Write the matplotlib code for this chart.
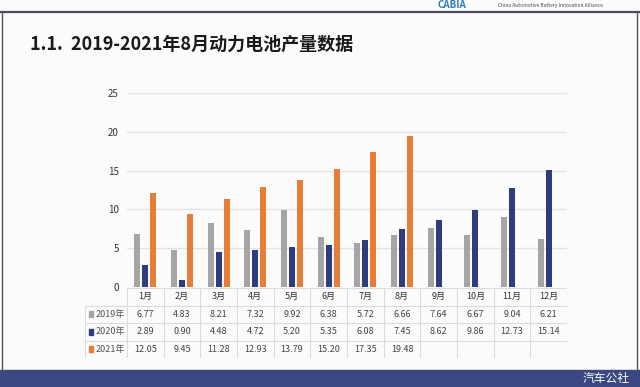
import matplotlib.pyplot as plt
from matplotlib.patches import Rectangle
from matplotlib.lines import Line2D
import numpy as np

plt.rcParams['font.family'] = ['Noto Sans CJK SC', 'DejaVu Sans']

months = ['1月', '2月', '3月', '4月', '5月', '6月', '7月', '8月', '9月', '10月', '11月', '12月']
years = ['2019年', '2020年', '2021年']
v2019 = [6.77, 4.83, 8.21, 7.32, 9.92, 6.38, 5.72, 6.66, 7.64, 6.67, 9.04, 6.21]
v2020 = [2.89, 0.90, 4.48, 4.72, 5.20, 5.35, 6.08, 7.45, 8.62, 9.86, 12.73, 15.14]
v2021 = [12.05, 9.45, 11.28, 12.93, 13.79, 15.20, 17.35, 19.48]
colors = ['#A5A5A5', '#2F3D7E', '#E57F38']

W, H = 640, 387
fig = plt.figure(figsize=(6.4, 3.87), dpi=100)
fig.patch.set_facecolor('#FBFBFB')

def fx(px):
    return px / W

def fy(py):
    return 1 - py / H

# frame, top rule and footer band
fig.add_artist(Line2D([0, 1], [fy(12), fy(12)], color='#4A4A55', lw=1.6))
fig.add_artist(Line2D([fx(2), fx(2)], [fy(12), fy(370)], color='#555555', lw=1))
fig.add_artist(Line2D([fx(637), fx(637)], [fy(12), fy(370)], color='#555555', lw=1))
fig.add_artist(Rectangle((0, 0), 1, fy(370), color='#3A4780', zorder=1))
fig.text(fx(630), fy(378.5), '汽车公社', color='white', fontsize=8.5, va='center', ha='right')
fig.text(fx(437), fy(5), 'CABIA', color='#2E7FB8', fontsize=7, fontweight='bold',
         style='italic', va='center', ha='left')
fig.text(fx(498), fy(5), 'China Automotive Battery Innovation Alliance', color='#444444',
         fontsize=3.5, va='center', ha='left')

fig.text(fx(30), fy(44), '1.1.  2019-2021年8月动力电池产量数据', fontsize=13,
         fontweight='bold', color='#1A1A1A', va='center', ha='left')

# bar chart
ax = fig.add_axes([fx(127), fy(287), fx(567) - fx(127), fy(93) - fy(287)])
ax.set_facecolor('none')
x = np.arange(len(months))
bw = 0.165
step = 0.215
ax.bar(x - step, v2019, bw, color=colors[0], zorder=3)
ax.bar(x, v2020, bw, color=colors[1], zorder=3)
ax.bar(np.arange(len(v2021)) + step, v2021, bw, color=colors[2], zorder=3)
ax.set_xlim(-0.5, len(months) - 0.5)
ax.set_ylim(0, 25)
ax.set_yticks([0, 5, 10, 15, 20, 25])
ax.tick_params(axis='y', length=0, labelsize=7, labelcolor='#333333', pad=6)
ax.set_xticks([])
ax.grid(axis='y', color='#E3E3E3', lw=1, zorder=0)
for s in ax.spines.values():
    s.set_visible(False)

# data table under the chart
unit = (567 - 127) / len(months)
left = -0.5 - (127 - 85) / unit
tx = fig.add_axes([fx(85), fy(358), fx(567) - fx(85), fy(288) - fy(358)])
tx.set_xlim(left, len(months) - 0.5)
tx.set_ylim(4, 0)
tx.axis('off')
gc = '#DCDCDC'
for r in range(5):
    x0 = -0.5 if r == 0 else left
    tx.plot([x0, len(months) - 0.5], [r, r], color=gc, lw=0.8)
for c in range(len(months) + 1):
    tx.plot([c - 0.5, c - 0.5], [0, 4], color=gc, lw=0.8)
tx.plot([left, left], [1, 4], color=gc, lw=0.8)

for i, m in enumerate(months):
    tx.text(i, 0.5, m, ha='center', va='center', fontsize=6.5, color='#333333')
rows = [v2019, v2020, v2021]
for r, (lab, vals) in enumerate(zip(years, rows)):
    y = r + 1.5
    tx.add_patch(Rectangle((left + 0.1, y - 0.18), 0.12, 0.36, color=colors[r]))
    tx.text(left + 0.28, y, lab, ha='left', va='center', fontsize=6.5, color='#555555')
    for i, v in enumerate(vals):
        tx.text(i, y, f'{v:.2f}', ha='center', va='center', fontsize=6.5, color='#444444')

fig.savefig('out.png', dpi=100, facecolor=fig.get_facecolor())
